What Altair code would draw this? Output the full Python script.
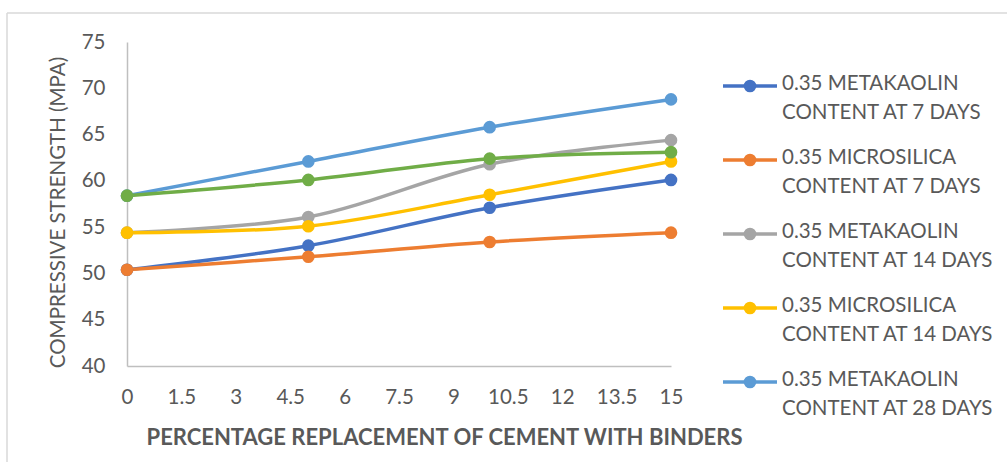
import altair as alt
import pandas as pd

# Replacement levels (% of cement) and compressive strength (MPa) per mix
replacement = [0, 5, 10, 15]

series_names = [
    "0.35 METAKAOLIN CONTENT AT 7 DAYS",
    "0.35 MICROSILICA CONTENT AT 7 DAYS",
    "0.35 METAKAOLIN CONTENT AT 14 DAYS",
    "0.35 MICROSILICA CONTENT AT 14 DAYS",
    "0.35 METAKAOLIN CONTENT AT 28 DAYS",
    "0.35 MICROSILICA CONTENT AT 28 DAYS",
]

metakaolin_7 = [50.4, 53.0, 57.1, 60.1]
microsilica_7 = [50.4, 51.8, 53.4, 54.4]
metakaolin_14 = [54.4, 56.1, 61.8, 64.4]
microsilica_14 = [54.4, 55.1, 58.5, 62.1]
metakaolin_28 = [58.4, 62.1, 65.8, 68.8]
microsilica_28 = [58.4, 60.1, 62.4, 63.1]

series_values = [
    metakaolin_7, microsilica_7, metakaolin_14,
    microsilica_14, metakaolin_28, microsilica_28,
]
series_colors = ["#4472C4", "#ED7D31", "#A5A5A5", "#FFC000", "#5B9BD5", "#70AD47"]

x_ticks = [0, 1.5, 3, 4.5, 6, 7.5, 9, 10.5, 12, 13.5, 15]
y_ticks = [40, 45, 50, 55, 60, 65, 70, 75]

rows = []
for order, (name, vals) in enumerate(zip(series_names, series_values)):
    for x, v in zip(replacement, vals):
        rows.append({"mix": name, "order": order, "pct": x, "strength": v})
df = pd.DataFrame(rows)

# Legend entries (the first five mixes), two text lines each
legend_df = pd.DataFrame(
    {
        "mix": series_names[:5],
        "slot": list(range(5)),
        "label": [n.replace(" CONTENT", "|CONTENT") for n in series_names[:5]],
    }
)

FONT = "Lato"
GREY_TEXT = "#595959"
FS = 20.5

color_scale = alt.Scale(domain=series_names, range=series_colors)

x_enc = alt.X(
    "pct:Q",
    scale=alt.Scale(domain=[0, 15], nice=False, zero=False),
    axis=alt.Axis(
        values=x_ticks,
        format=".3~g",
        title="PERCENTAGE REPLACEMENT OF CEMENT WITH BINDERS",
        titleFont=FONT,
        titleFontSize=22,
        titleFontWeight="bold",
        titleColor=GREY_TEXT,
        titleX=317,
        titleY=71,
        titleBaseline="middle",
        labelFont=FONT,
        labelFontSize=FS,
        labelColor=GREY_TEXT,
        labelPadding=21,
        labelFlush=False,
        ticks=False,
        grid=False,
        domainColor="#BFBFBF",
        domainWidth=1.5,
    ),
)

y_enc = alt.Y(
    "strength:Q",
    scale=alt.Scale(domain=[40, 75], nice=False, zero=False),
    axis=alt.Axis(
        values=y_ticks,
        title="COMPRESSIVE STRENGTH (MPA)",
        titleFont=FONT,
        titleFontSize=FS,
        titleFontWeight="normal",
        titleColor=GREY_TEXT,
        titleAngle=270,
        titleX=-69,
        titleY=170,
        titleBaseline="middle",
        titleAlign="center",
        labelFont=FONT,
        labelFontSize=FS,
        labelColor=GREY_TEXT,
        labelPadding=22,
        labelFlush=False,
        ticks=False,
        grid=False,
        domainColor="#BFBFBF",
        domainWidth=1.5,
    ),
)

base = alt.Chart(df)

lines = base.mark_line(interpolate="cardinal", strokeWidth=3.5, clip=False).encode(
    x=x_enc,
    y=y_enc,
    color=alt.Color("mix:N", scale=color_scale, sort=series_names, legend=None),
    order="order:Q",
)

points = base.mark_point(filled=True, size=160, opacity=1, clip=False).encode(
    x="pct:Q",
    y="strength:Q",
    color=alt.Color("mix:N", scale=color_scale, legend=None),
    order="order:Q",
)

plot = alt.layer(lines, points)

# Legend built from its own slot scale, placed to the right of the plot
slot_y = alt.Y(
    "slot:Q",
    scale=alt.Scale(domain=[0, 4], range=[44, 340], nice=False, zero=False),
    axis=None,
)
leg_base = alt.Chart(legend_df)
leg_line = leg_base.mark_rule(strokeWidth=3.5).encode(
    x=alt.value(596),
    x2=alt.value(650),
    y=slot_y,
    color=alt.Color("mix:N", scale=color_scale, legend=None),
)
leg_dot = leg_base.mark_point(filled=True, size=160, opacity=1).encode(
    x=alt.value(623),
    y=slot_y,
    color=alt.Color("mix:N", scale=color_scale, legend=None),
)
leg_text = leg_base.mark_text(
    align="left",
    baseline="top",
    dy=-12,
    lineBreak="|",
    lineHeight=29,
    font=FONT,
    fontSize=FS,
    color=GREY_TEXT,
).encode(x=alt.value(655), y=slot_y, text="label:N")

legend = alt.layer(leg_line, leg_dot, leg_text)

# Light chart-area frame
frame_df = pd.DataFrame({"k": [0]})
frame_top = alt.Chart(frame_df).mark_rule(color="#D9D9D9", strokeWidth=1.5).encode(
    x=alt.value(-120), x2=alt.value(900), y=alt.value(-29)
)
frame_left = alt.Chart(frame_df).mark_rule(color="#D9D9D9", strokeWidth=1.5).encode(
    x=alt.value(-120), y=alt.value(-29), y2=alt.value(420)
)

chart = (
    alt.layer(frame_top, frame_left, plot, legend)
    .resolve_scale(y="independent")
    .properties(
        width=544,
        height=324,
        padding={"left": 127, "top": 42, "right": 336, "bottom": 106},
        autosize=alt.AutoSizeParams(type="none"),
        background="white",
    )
    .configure_view(stroke=None)
)

chart.save("out.html", embed_options={"renderer": "svg", "actions": False})
